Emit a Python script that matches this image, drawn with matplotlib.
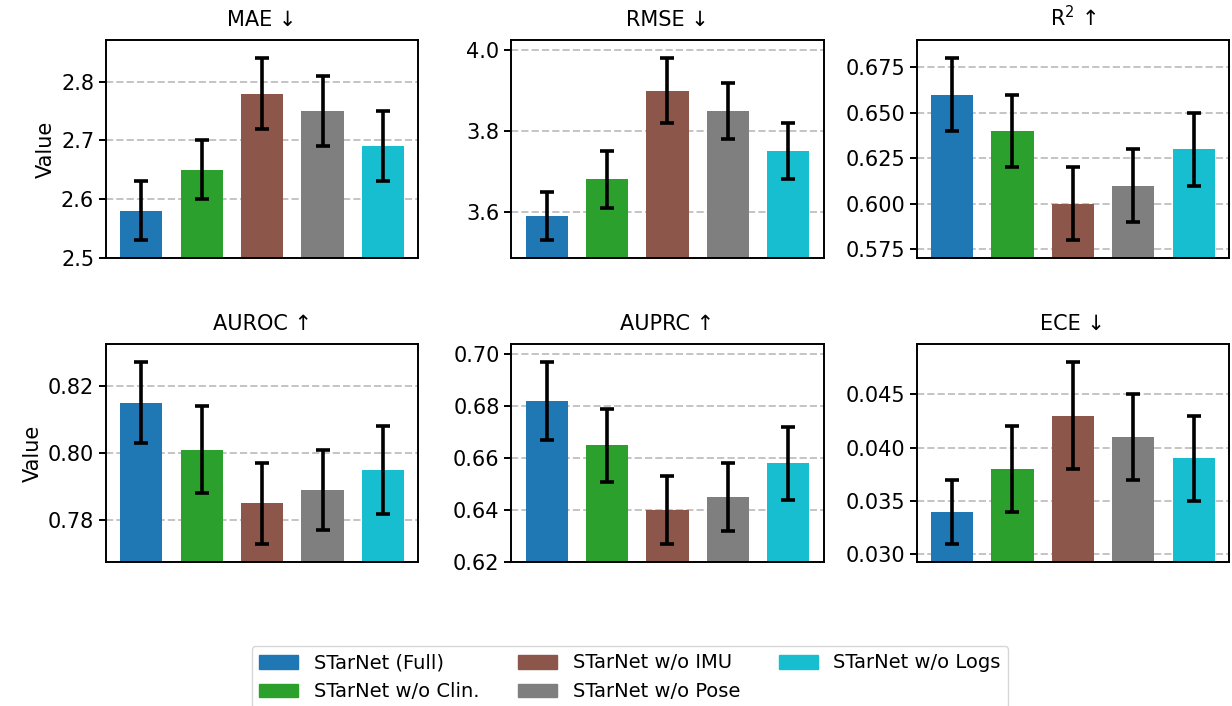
import numpy as np
import matplotlib
matplotlib.use("Agg")
import matplotlib.pyplot as plt

models = [
    "STarNet (Full)",
    "STarNet w/o Clin.",
    "STarNet w/o IMU",
    "STarNet w/o Pose",
    "STarNet w/o Logs",
]
colors = ["#1f77b4", "#2ca02c", "#8c564b", "#7f7f7f", "#17becf"]

titles = ["MAE ↓", "RMSE ↓", "R$^2$ ↑", "AUROC ↑", "AUPRC ↑", "ECE ↓"]

mae_mean = [2.58, 2.65, 2.78, 2.75, 2.69]
mae_std = [0.05, 0.05, 0.06, 0.06, 0.06]
rmse_mean = [3.59, 3.68, 3.90, 3.85, 3.75]
rmse_std = [0.06, 0.07, 0.08, 0.07, 0.07]
r2_mean = [0.66, 0.64, 0.60, 0.61, 0.63]
r2_std = [0.02, 0.02, 0.02, 0.02, 0.02]
auroc_mean = [0.815, 0.801, 0.785, 0.789, 0.795]
auroc_std = [0.012, 0.013, 0.012, 0.012, 0.013]
auprc_mean = [0.682, 0.665, 0.640, 0.645, 0.658]
auprc_std = [0.015, 0.014, 0.013, 0.013, 0.014]
ece_mean = [0.034, 0.038, 0.043, 0.041, 0.039]
ece_std = [0.003, 0.004, 0.005, 0.004, 0.004]

means = [mae_mean, rmse_mean, r2_mean, auroc_mean, auprc_mean, ece_mean]
stds = [mae_std, rmse_std, r2_std, auroc_std, auprc_std, ece_std]

fig, axes = plt.subplots(2, 3, figsize=(12.32, 7.06), dpi=100)
fig.subplots_adjust(left=0.086, right=0.9976, top=0.943, bottom=0.204,
                    wspace=0.298, hspace=0.394)

x = np.arange(len(models))
for i, ax in enumerate(axes.flat):
    m = np.array(means[i])
    s = np.array(stds[i])
    ax.bar(x, m, width=0.7, color=colors, yerr=s, capsize=5,
           error_kw=dict(elinewidth=2.6, capthick=2.6, ecolor="black"))
    # pad the y-range by 10% of the error-bar span
    lo = (m - s).min()
    hi = (m + s).max()
    pad = 0.1 * (hi - lo)
    ax.set_ylim(lo - pad, hi + pad)
    ax.set_xticks([])
    ax.set_axisbelow(True)
    ax.set_title(titles[i], fontsize=15, pad=10)
    ax.tick_params(axis="y", labelsize=15, width=1.4, length=5)
    ax.grid(axis="y", linestyle="--", color="#c4c4c4", linewidth=1.4)
    for sp in ax.spines.values():
        sp.set_linewidth(1.4)
    if i % 3 == 0:
        ax.set_ylabel("Value", fontsize=15)

handles = [plt.Rectangle((0, 0), 1, 1, color=c) for c in colors]
fig.legend(handles, models, loc="upper center", ncol=3, fontsize=14,
           bbox_to_anchor=(630 / 1232, 1 - 636 / 706), frameon=True)

fig.savefig("out.png", dpi=100)
